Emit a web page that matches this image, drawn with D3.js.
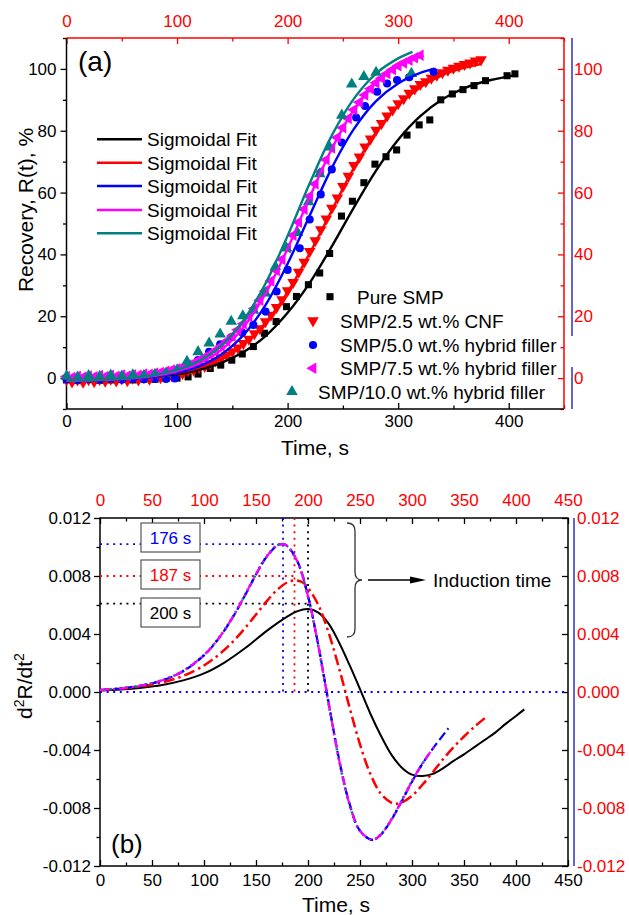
<!DOCTYPE html>
<html>
<head>
<meta charset="utf-8">
<script src="https://cdn.jsdelivr.net/npm/d3@7"></script>
<style>
  body { margin: 0; background: #fff; }
</style>
</head>
<body>
<div id="chartDiv"></div>
<script>
// ---------- data ----------
const seriesNames = ["Pure SMP", "SMP/2.5 wt.% CNF", "SMP/5.0 wt.% hybrid filler",
                     "SMP/7.5 wt.% hybrid filler", "SMP/10.0 wt.% hybrid filler"];
const fitLabel = "Sigmoidal Fit";

// (a) measured recovery, [time s, R %]
const pureSmpPts = [[0,-0.6],[10,-0.8],[20,-0.5],[30,-0.7],[40,-0.6],[50,-0.4],[60,-0.6],[70,-0.3],[80,-0.4],[90,-0.1],
  [100,0.0],[110,0.4],[119,1.3],[130,3.1],[139.5,4.2],[149.5,5.8],[159,7.8],[169,10.2],[179,14.5],[189.6,18.3],
  [199,23.1],[208,26.4],[218.8,30.2],[229,34.0],[238,40.3],[248.7,52.4],[258.6,57.2],[269,63.2],[279,69.2],[289,71.6],
  [298.6,73.8],[308,78.6],[319,81.9],[328.6,83.5],[338.5,90.0],[349,91.9],[358.6,93.3],[368.6,94.6],[379,96.2],
  [398.5,97.8],[405.6,98.4]];
const cnfPts = [[0,-0.5],[5,-1.2],[10,-0.6],[15,-1.3],[20,-0.5],[25,-1.1],[30,-0.4],[35,-1.0],[40,-0.3],[45,-0.9],
  [50,-0.2],[55,-0.8],[60,0.0],[65,-0.6],[70,0.3],[75,-0.3],[80,0.6],[85,0.2],[90,1.0],[95,0.8],[100,1.6],[105,1.5],
  [110,2.4],[115,2.6],[120,3.4],[125,3.8],[130,4.6],[135,5.6],[140,6.5],[145,7.4],[150,8.6],[155,9.8],[160,11.2],
  [165,12.6],[170,14.4],[175,16.0],[180,18.3],[185,20.4],[190,22.9],[195,25.4],[200,28.3],[205,31.0],[210,34.3],
  [215,37.5],[220,41.0],[225,44.5],[230,48.0],[235,51.5],[240,55.0],[245,58.3],[250,62.0],[255,65.3],[260,68.8],
  [265,71.6],[270,74.8],[275,77.4],[280,80.2],[285,82.4],[290,84.8],[295,86.8],[300,88.8],[305,90.4],[310,92.2],
  [315,93.6],[320,95.0],[325,95.9],[330,97.0],[335,98.0],[340,98.8],[345,99.6],[350,100.3],[355,100.9],[360,101.5],
  [365,102.0],[370,102.6],[375,103.0]];
const hyb50Pts = [[0,-0.4],[10,-0.6],[20,-0.3],[30,-0.5],[40,-0.2],[50,-0.5],[60,-0.3],[70,-0.4],[80,-0.2],[90,-0.3],
  [98,-0.1],[109,3.0],[119,5.8],[129,8.5],[139,10.9],[149,13.2],[159,14.7],[169,17.2],[180,21.5],[190,28.0],
  [200,35.0],[211,42.0],[220,51.3],[230,59.4],[240,67.5],[249,76.2],[262,84.3],[270,88.0],[281,92.6],[290,95.3],
  [299,96.4],[310,97.3],[332,99.1]];
const hyb75Pts = [[0,0.5],[5,0.2],[10,0.6],[15,0.3],[20,0.7],[25,0.4],[30,0.8],[35,0.5],[40,0.9],[45,0.6],[50,1.0],
  [55,0.7],[60,1.1],[65,0.9],[70,1.3],[75,1.2],[80,1.6],[85,1.8],[90,2.2],[95,2.6],[100,3.0],[105,3.6],[110,4.2],
  [115,4.9],[120,5.8],[125,6.7],[130,7.8],[135,9.0],[140,10.4],[145,12.0],[150,13.6],[155,15.6],[160,17.6],[165,20.0],
  [170,22.5],[175,25.2],[180,28.2],[185,31.4],[190,34.8],[195,38.4],[200,42.2],[205,46.2],[210,50.4],[215,54.6],
  [220,58.8],[225,62.8],[230,66.8],[235,70.6],[240,74.4],[245,77.8],[250,81.0],[255,84.0],[260,86.8],[265,89.2],
  [270,91.6],[275,93.6],[280,95.5],[285,97.0],[290,98.5],[295,99.8],[300,101.0],[305,101.9],[310,102.8],[315,103.6],
  [320,104.4]];
const hyb100Pts = [[0,0.6],[10,0.3],[20,0.8],[30,0.5],[40,0.9],[50,0.6],[60,1.0],[70,0.8],[80,1.2],[90,1.5],[100,2.6],
  [109,5.4],[119,8.5],[129,11.3],[139,14.2],[149,18.3],[159.5,20.1],[169,22.0],[180,27.5],[189,36.0],[199,42.0],
  [209,47.0],[219,57.0],[229,66.0],[238,74.7],[249,85.0],[258,95.1],[269,97.5],[280,98.9],[312,98.5]];

// (a) sigmoidal fit curves, [time s, R %]
const pureSmpFit = [[0,-0.81],[20,-0.69],[40,-0.49],[60,-0.15],[80,0.39],[100,1.26],[120,2.69],[140,4.93],[160,8.41],
  [180,13.6],[200,21.1],[220,30.8],[240,42.6],[260,55.2],[280,67.1],[300,77.1],[320,84.7],[340,90.2],[360,93.8],
  [380,96.1],[405,97.9]];
const cnfFit = [[0,-0.82],[20,-0.70],[40,-0.48],[60,-0.11],[80,0.52],[100,1.58],[120,3.38],[140,6.30],[160,10.9],
  [180,17.9],[200,27.8],[220,40.4],[240,54.3],[260,68.0],[280,79.5],[300,88.1],[320,94.1],[340,98.0],[360,100.4],
  [375,101.6]];
const hyb50Fit = [[0,-0.87],[20,-0.76],[40,-0.57],[60,-0.20],[80,0.47],[100,1.69],[120,3.87],[140,7.66],[160,13.9],
  [180,23.6],[200,37.0],[220,52.6],[240,68.0],[260,80.6],[280,89.6],[300,95.3],[320,98.7],[333,100.1]];
const hyb75Fit = [[0,-0.85],[20,-0.72],[40,-0.49],[60,-0.05],[80,0.73],[100,2.17],[120,4.72],[140,9.14],[160,16.4],
  [180,27.3],[200,41.9],[220,58.5],[240,74.2],[260,86.7],[280,95.4],[300,100.8],[323,104.3]];
const hyb100Fit = [[0,-0.83],[20,-0.68],[40,-0.41],[60,0.09],[80,1.0],[100,2.64],[120,5.55],[140,10.5],[160,18.6],
  [180,30.6],[200,46.0],[220,63.0],[240,78.5],[260,90.4],[280,98.5],[300,103.4],[313,105.5]];

// (b) second derivative d2R/dt2, [time s, value]
const pureSmpD2 = [[0,0.00011],[20,0.00018],[40,0.0003],[60,0.00049],[80,0.0008],[100,0.00128],[120,0.00205],
  [140,0.00305],[160,0.0042],[180,0.0052],[190,0.00558],[200,0.00572],[210,0.00548],[220,0.0047],[230,0.0034],
  [240,0.00185],[250,0.0002],[260,-0.0015],[270,-0.003],[280,-0.0043],[290,-0.0052],[300,-0.0057],[310,-0.0058],
  [320,-0.00565],[330,-0.00525],[340,-0.00475],[350,-0.0043],[360,-0.0038],[370,-0.0033],[380,-0.0028],
  [390,-0.0022],[400,-0.00165],[408,-0.0012]];
const cnfD2 = [[0,0.00013],[20,0.00023],[40,0.00039],[60,0.00066],[80,0.00111],[100,0.00183],[110,0.00233],
  [120,0.00293],[130,0.00364],[140,0.00445],[150,0.00534],[160,0.00623],[170,0.00702],[180,0.00756],[187,0.0077],
  [195,0.00755],[200,0.00719],[210,0.00599],[220,0.00405],[230,0.00161],[240,-0.00108],[250,-0.00361],[260,-0.00566],
  [270,-0.00701],[280,-0.00763],[285,-0.0077],[290,-0.00763],[300,-0.00716],[310,-0.0064],[320,-0.00553],
  [330,-0.00462],[340,-0.00381],[350,-0.00307],[360,-0.0024],[370,-0.0018]];
const hyb50D2 = [[0,0.00013],[20,0.00024],[40,0.00044],[60,0.0008],[80,0.00143],[100,0.00253],[110,0.00331],
  [120,0.00429],[130,0.00543],[140,0.00674],[150,0.0081],[160,0.0093],[170,0.01008],[176,0.0102],[180,0.01008],
  [190,0.00899],[200,0.00664],[210,0.00319],[220,-0.0008],[230,-0.00468],[240,-0.00772],[250,-0.00957],
  [262,-0.0102],[270,-0.00984],[280,-0.00884],[290,-0.00755],[300,-0.00619],[310,-0.00495],[320,-0.00391],
  [335,-0.0025]];
const hyb75D2 = [[0,0.00013],[20,0.00024],[40,0.00045],[60,0.00081],[80,0.00145],[100,0.00255],[110,0.00333],
  [120,0.0043],[130,0.00545],[140,0.00676],[150,0.00812],[160,0.00932],[170,0.01009],[176,0.0102],[180,0.01007],
  [190,0.00897],[200,0.0066],[210,0.00315],[220,-0.00085],[230,-0.00472],[240,-0.00775],[250,-0.00958],
  [262,-0.0102],[270,-0.00983],[280,-0.00882],[290,-0.00752],[300,-0.00616],[310,-0.00492],[323,-0.0036]];
const hyb100D2 = [[0,0.00014],[20,0.00025],[40,0.00046],[60,0.00082],[80,0.00146],[100,0.00256],[110,0.00334],
  [120,0.00431],[130,0.00546],[140,0.00677],[150,0.00813],[160,0.00933],[170,0.0101],[176,0.0102],[180,0.01006],
  [190,0.00895],[200,0.00658],[210,0.00312],[220,-0.00088],[230,-0.00475],[240,-0.00777],[250,-0.00959],
  [262,-0.0102],[270,-0.00982],[280,-0.0088],[290,-0.0075],[300,-0.00614],[313,-0.0046]];

// induction-time markers in (b)
const inductionTimes = [176, 187, 200];
const inductionLevels = [0.0102, 0.0080, 0.0061];

// tick values
const timeTicksA = [0, 100, 200, 300, 400];
const timeMinorA = [50, 150, 250, 350, 450];
const recTicks = [0, 20, 40, 60, 80, 100];
const recMinor = [-10, 10, 30, 50, 70, 90, 110];
const timeTicksB = [0, 50, 100, 150, 200, 250, 300, 350, 400, 450];
const timeMinorB = [25, 75, 125, 175, 225, 275, 325, 375, 425];
const d2Ticks = [-0.012, -0.008, -0.004, 0, 0.004, 0.008, 0.012];
const d2Minor = [-0.01, -0.006, -0.002, 0.002, 0.006, 0.01];

// ---------- drawing ----------
const FONT = '"Liberation Sans", Arial, sans-serif';
const RED = "#ff0000", AXBLUE = "#3030c8";
const colors = ["#000000", "#ff0000", "#0000ff", "#ff00ff", "#008080"];

const svg = d3.select("#chartDiv").append("svg")
    .attr("width", 629).attr("height", 915)
    .attr("font-family", FONT);

function addAxis(make, scale, tr, majors, minors, o) {
  const g = svg.append("g").attr("transform", tr);
  g.call(make(scale).tickValues(majors).tickSizeInner(o.len).tickSizeOuter(0)
      .tickPadding(o.pad).tickFormat(o.fmt || (d => d)));
  g.attr("font-family", FONT).attr("font-size", 17).attr("color", o.tick);
  g.select(".domain").remove();
  g.selectAll(".tick line").attr("stroke-width", 1.3);
  g.selectAll(".tick text").attr("fill", o.label || o.tick);
  const m = svg.append("g").attr("transform", tr);
  m.call(make(scale).tickValues(minors).tickSizeInner(o.len / 2 + (o.len > 0 ? 0.5 : -0.5))
      .tickSizeOuter(0).tickFormat(""));
  m.attr("color", o.tick);
  m.select(".domain").remove();
  m.selectAll(".tick line").attr("stroke-width", 1.3);
}

// ===== panel (a) =====
const xA = d3.scaleLinear().domain([0, 450]).range([66.5, 564]);
const yA = d3.scaleLinear().domain([-10, 110]).range([409, 38]);

addAxis(d3.axisBottom, xA, "translate(0,409)", timeTicksA, timeMinorA, {tick: "#000", len: -6, pad: 6});
addAxis(d3.axisTop, xA, "translate(0,38)", timeTicksA, timeMinorA, {tick: RED, len: -6, pad: 11});
addAxis(d3.axisLeft, yA, "translate(66.5,0)", recTicks, recMinor, {tick: "#000", len: 6, pad: 4});
addAxis(d3.axisRight, yA, "translate(564,0)", recTicks, recMinor, {tick: RED, len: -6, pad: 10});

svg.append("line").attr("x1", 66.5).attr("x2", 66.5).attr("y1", 38).attr("y2", 409).attr("stroke", "#000").attr("stroke-width", 1.5);
svg.append("line").attr("x1", 66.5).attr("x2", 564).attr("y1", 409).attr("y2", 409).attr("stroke", "#000").attr("stroke-width", 1.5);
svg.append("line").attr("x1", 66.5).attr("x2", 564).attr("y1", 38).attr("y2", 38).attr("stroke", RED).attr("stroke-width", 1.5);
svg.append("line").attr("x1", 564).attr("x2", 564).attr("y1", 38).attr("y2", 409).attr("stroke", RED).attr("stroke-width", 1.5);
svg.append("line").attr("x1", 572).attr("x2", 572).attr("y1", 38).attr("y2", 336).attr("stroke", AXBLUE).attr("stroke-width", 1.5);
svg.append("line").attr("x1", 572).attr("x2", 572).attr("y1", 367).attr("y2", 409).attr("stroke", AXBLUE).attr("stroke-width", 1.5);

const markers = [
  {type: d3.symbolSquare, size: 50, rot: 0},
  {type: d3.symbolTriangle, size: 58, rot: 180},
  {type: d3.symbolCircle, size: 52, rot: 0},
  {type: d3.symbolTriangle, size: 58, rot: -90},
  {type: d3.symbolTriangle, size: 58, rot: 0}
];
const ptsA = [pureSmpPts, cnfPts, hyb50Pts, hyb75Pts, hyb100Pts];
const fitsA = [pureSmpFit, cnfFit, hyb50Fit, hyb75Fit, hyb100Fit];

ptsA.forEach((pts, i) => {
  const mk = markers[i];
  svg.append("g").selectAll("path").data(pts).join("path")
      .attr("d", d3.symbol().type(mk.type).size(mk.size)())
      .attr("transform", d => `translate(${xA(d[0])},${yA(d[1])}) rotate(${mk.rot})`)
      .attr("fill", colors[i]);
});

const lineA = d3.line().x(d => xA(d[0])).y(d => yA(d[1])).curve(d3.curveCatmullRom.alpha(0.5));
fitsA.forEach((f, i) => {
  svg.append("path").datum(f).attr("d", lineA)
      .attr("fill", "none").attr("stroke", colors[i]).attr("stroke-width", 2.4);
});

// fit legend
const fitRows = [139.3, 162.7, 186, 210, 233.3];
fitRows.forEach((y, i) => {
  svg.append("line").attr("x1", 97).attr("x2", 142).attr("y1", y).attr("y2", y)
      .attr("stroke", colors[i]).attr("stroke-width", 2.6);
  svg.append("text").attr("x", 147).attr("y", y + 6.8).attr("font-size", 19).text(fitLabel);
});

// scatter legend
const ptRows = [296.7, 320.7, 345, 368.3, 391.7];
const ptMarkX = [330, 313, 313, 313, 292];
const ptTextX = [357, 340, 340, 340, 318];
ptRows.forEach((y, i) => {
  const mk = markers[i];
  svg.append("path").attr("d", d3.symbol().type(mk.type).size(mk.size)())
      .attr("transform", `translate(${ptMarkX[i]},${y}) rotate(${mk.rot})`).attr("fill", colors[i]);
  svg.append("text").attr("x", ptTextX[i]).attr("y", y + 6.8).attr("font-size", 19).text(seriesNames[i]);
});

svg.append("text").attr("x", 78).attr("y", 71).attr("font-size", 28).text("(a)");
svg.append("text").attr("x", 315).attr("y", 455).attr("text-anchor", "middle").attr("font-size", 21).text("Time, s");
svg.append("text").attr("transform", "translate(33,210) rotate(-90)").attr("text-anchor", "middle")
    .attr("font-size", 21).text("Recovery, R(t), %");

// ===== panel (b) =====
const xB = d3.scaleLinear().domain([0, 450]).range([100, 568]);
const yB = d3.scaleLinear().domain([-0.012, 0.012]).range([866, 518]);
const f3 = v => v.toFixed(3);

addAxis(d3.axisBottom, xB, "translate(0,866)", timeTicksB, timeMinorB, {tick: "#000", len: -6, pad: 8});
addAxis(d3.axisTop, xB, "translate(0,518)", timeTicksB, timeMinorB, {tick: "#000", label: RED, len: -6, pad: 12});
addAxis(d3.axisLeft, yB, "translate(100,0)", d2Ticks, d2Minor, {tick: "#000", len: 6, pad: 3, fmt: f3});
addAxis(d3.axisRight, yB, "translate(568,0)", d2Ticks, d2Minor, {tick: "#000", label: RED, len: -6, pad: 9, fmt: f3});

svg.append("rect").attr("x", 100).attr("y", 518).attr("width", 468).attr("height", 348)
    .attr("fill", "none").attr("stroke", "#000").attr("stroke-width", 1.5);
svg.append("line").attr("x1", 574).attr("x2", 574).attr("y1", 518).attr("y2", 866).attr("stroke", AXBLUE).attr("stroke-width", 1.5);

// dotted guides
const dotted = "2,4.6";
const guideColors = ["#0000ff", "#ff0000", "#000000"];
svg.append("line").attr("x1", xB(0)).attr("x2", xB(450)).attr("y1", yB(0)).attr("y2", yB(0))
    .attr("stroke", "#0000ff").attr("stroke-width", 1.8).attr("stroke-dasharray", dotted);
inductionTimes.forEach((t, i) => {
  svg.append("line").attr("x1", xB(t)).attr("x2", xB(t)).attr("y1", yB(0.012)).attr("y2", yB(0))
      .attr("stroke", guideColors[i]).attr("stroke-width", 1.8).attr("stroke-dasharray", dotted);
  svg.append("line").attr("x1", xB(0)).attr("x2", xB(t)).attr("y1", yB(inductionLevels[i])).attr("y2", yB(inductionLevels[i]))
      .attr("stroke", guideColors[i]).attr("stroke-width", 1.8).attr("stroke-dasharray", dotted);
});

const lineB = d3.line().x(d => xB(d[0])).y(d => yB(d[1])).curve(d3.curveCatmullRom.alpha(0.5));
const curvesB = [
  {d: pureSmpD2, c: colors[0], w: 2.0, dash: null},
  {d: cnfD2, c: colors[1], w: 2.5, dash: "11,4,2.5,4"},
  {d: hyb100D2, c: colors[4], w: 2.6, dash: "2,3"},
  {d: hyb50D2, c: colors[2], w: 2.2, dash: "9,4"},
  {d: hyb75D2, c: colors[3], w: 2.2, dash: "9,4,2,4"}
];
curvesB.forEach(s => {
  svg.append("path").datum(s.d).attr("d", lineB).attr("fill", "none")
      .attr("stroke", s.c).attr("stroke-width", s.w).attr("stroke-dasharray", s.dash);
});

// induction-time boxes
const boxY = [523, 560, 598];
inductionTimes.forEach((t, i) => {
  svg.append("rect").attr("x", 141).attr("y", boxY[i]).attr("width", 59).attr("height", 29)
      .attr("fill", "#fff").attr("stroke", "#555").attr("stroke-width", 1.2);
  svg.append("text").attr("x", 170.5).attr("y", boxY[i] + 20.5).attr("text-anchor", "middle")
      .attr("font-size", 17).attr("fill", guideColors[i]).text(`${t} s`);
});

// brace + arrow
svg.append("path")
    .attr("d", "M347,523 Q355,523 355,531 L355,572 Q355,580 362,580 Q355,580 355,588 L355,629 Q355,637 347,637")
    .attr("fill", "none").attr("stroke", "#333").attr("stroke-width", 1.3);
svg.append("line").attr("x1", 368).attr("x2", 412).attr("y1", 580).attr("y2", 580).attr("stroke", "#000").attr("stroke-width", 1.6);
svg.append("path").attr("d", "M410,576.5 L426,580 L410,583.5 Z").attr("fill", "#000");
svg.append("text").attr("x", 433).attr("y", 587).attr("font-size", 19).text("Induction time");

svg.append("text").attr("x", 111).attr("y", 853).attr("font-size", 26).text("(b)");
svg.append("text").attr("x", 336).attr("y", 912).attr("text-anchor", "middle").attr("font-size", 21).text("Time, s");
const yl = svg.append("text").attr("transform", "translate(32,686) rotate(-90)").attr("text-anchor", "middle")
    .attr("font-size", 21);
yl.append("tspan").text("d");
yl.append("tspan").attr("font-size", 14).attr("dy", -8).text("2");
yl.append("tspan").attr("dy", 8).text("R/dt");
yl.append("tspan").attr("font-size", 14).attr("dy", -8).text("2");
</script>
</body>
</html>
